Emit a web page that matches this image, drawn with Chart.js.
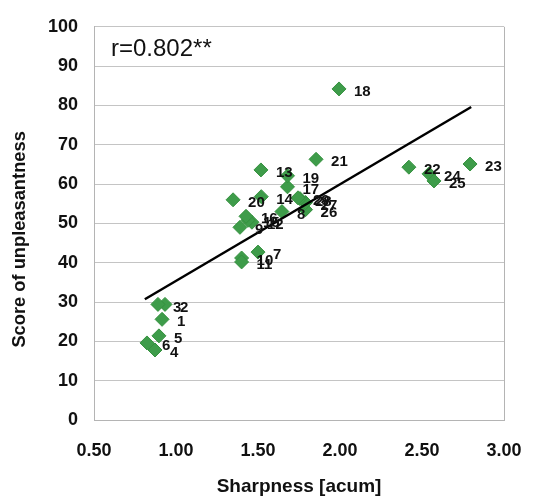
<!DOCTYPE html>
<html><head><meta charset="utf-8">
<script src="https://cdn.jsdelivr.net/npm/chart.js@4"></script>
<style>html,body{margin:0;padding:0;background:#fff}canvas{display:block}</style>
</head><body>
<canvas id="c" width="546" height="496"></canvas>
<script>
const soundLabels = ['1','2','3','4','5','6','7','8','9','10','11','12','13','14','15','16','17','18','19','20','21','22','23','24','25','26','27','28','29'];
const sharpness = [0.915,0.933,0.89,0.872,0.896,0.823,1.50,1.646,1.39,1.40,1.40,1.463,1.518,1.52,1.439,1.427,1.68,1.994,1.68,1.348,1.854,2.42,2.793,2.543,2.573,1.79,1.79,1.756,1.744];
const unpleasantness = [25.6,29.4,29.4,17.8,21.4,19.6,42.7,53.0,49.0,41.2,40.2,50.3,63.6,56.8,50.8,51.8,59.3,84.2,62.1,56.0,66.3,64.3,65.1,62.6,60.8,53.5,55.3,56.3,56.5];
const trendSharpness = [0.81, 2.80];
const trendScore = [30.7, 79.6];
const xTickValues = [0.5,1.0,1.5,2.0,2.5,3.0];
const yTickValues = [0,10,20,30,40,50,60,70,80,90,100];
const correlationText = 'r=0.802**';
const xTitle = 'Sharpness [acum]';
const yTitle = 'Score of unpleasantness';

const FONT = '"Liberation Sans", Arial, sans-serif';

const labelPlugin = {
  id: 'labelPlugin',
  afterDatasetsDraw(chart) {
    const ctx = chart.ctx;
    const meta = chart.getDatasetMeta(1);
    ctx.save();
    ctx.font = 'bold 15px ' + FONT;
    ctx.fillStyle = '#111';
    ctx.textAlign = 'left';
    ctx.textBaseline = 'middle';
    meta.data.forEach((p, i) => ctx.fillText(soundLabels[i], p.x + 15, p.y + 3));
    const a = chart.chartArea;
    ctx.font = '24px ' + FONT;
    ctx.fillText(correlationText, a.left + 17, a.top + 23);
    // y axis title
    ctx.font = 'bold 18.3px ' + FONT;
    ctx.textAlign = 'center';
    ctx.translate(20, (a.top + a.bottom) / 2 + 16);
    ctx.rotate(-Math.PI / 2);
    ctx.fillText(yTitle, 0, 0);
    ctx.restore();
  }
};

new Chart(document.getElementById('c'), {
  type: 'scatter',
  data: {
    datasets: [
      {
        type: 'line',
        data: trendSharpness.map((x, i) => ({x, y: trendScore[i]})),
        borderColor: '#000',
        borderWidth: 2.5,
        pointRadius: 0,
        fill: false
      },
      {
        data: sharpness.map((x, i) => ({x, y: unpleasantness[i]})),
        pointStyle: 'rectRot',
        pointRadius: 7,
        backgroundColor: '#3e9c4a',
        borderColor: '#35913f',
        borderWidth: 1
      }
    ]
  },
  options: {
    responsive: false,
    animation: false,
    events: [],
    layout: { padding: { top: 22, right: 42, left: 0, bottom: 0 } },
    plugins: { legend: { display: false }, tooltip: { enabled: false } },
    scales: {
      x: {
        type: 'linear', min: 0.5, max: 3.0,
        afterBuildTicks: s => { s.ticks = xTickValues.map(v => ({value: v})); },
        afterFit: s => { s.height = 76; },
        ticks: { callback: v => Number(v).toFixed(2), font: { family: FONT, size: 18, weight: 'bold' }, color: '#111', padding: 20, maxRotation: 0 },
        grid: { drawTicks: false, color: c => (c.tick && c.tick.value === 3.0) ? '#b4b4b4' : 'rgba(0,0,0,0)' },
        border: { color: '#b4b4b4' },
        title: { display: true, text: xTitle, font: { family: FONT, size: 19, weight: 'bold', lineHeight: 1 }, color: '#111', padding: { top: 0, bottom: 0 } }
      },
      y: {
        type: 'linear', min: 0, max: 100,
        afterBuildTicks: s => { s.ticks = yTickValues.map(v => ({value: v})); },
        afterFit: s => { s.width = 94; },
        ticks: { font: { family: FONT, size: 18, weight: 'bold' }, color: '#111', padding: 16 },
        grid: { drawTicks: false, color: '#c4c4c4' },
        border: { color: '#b4b4b4' },
        title: { display: false }
      }
    }
  },
  plugins: [labelPlugin]
});
</script>
</body></html>
